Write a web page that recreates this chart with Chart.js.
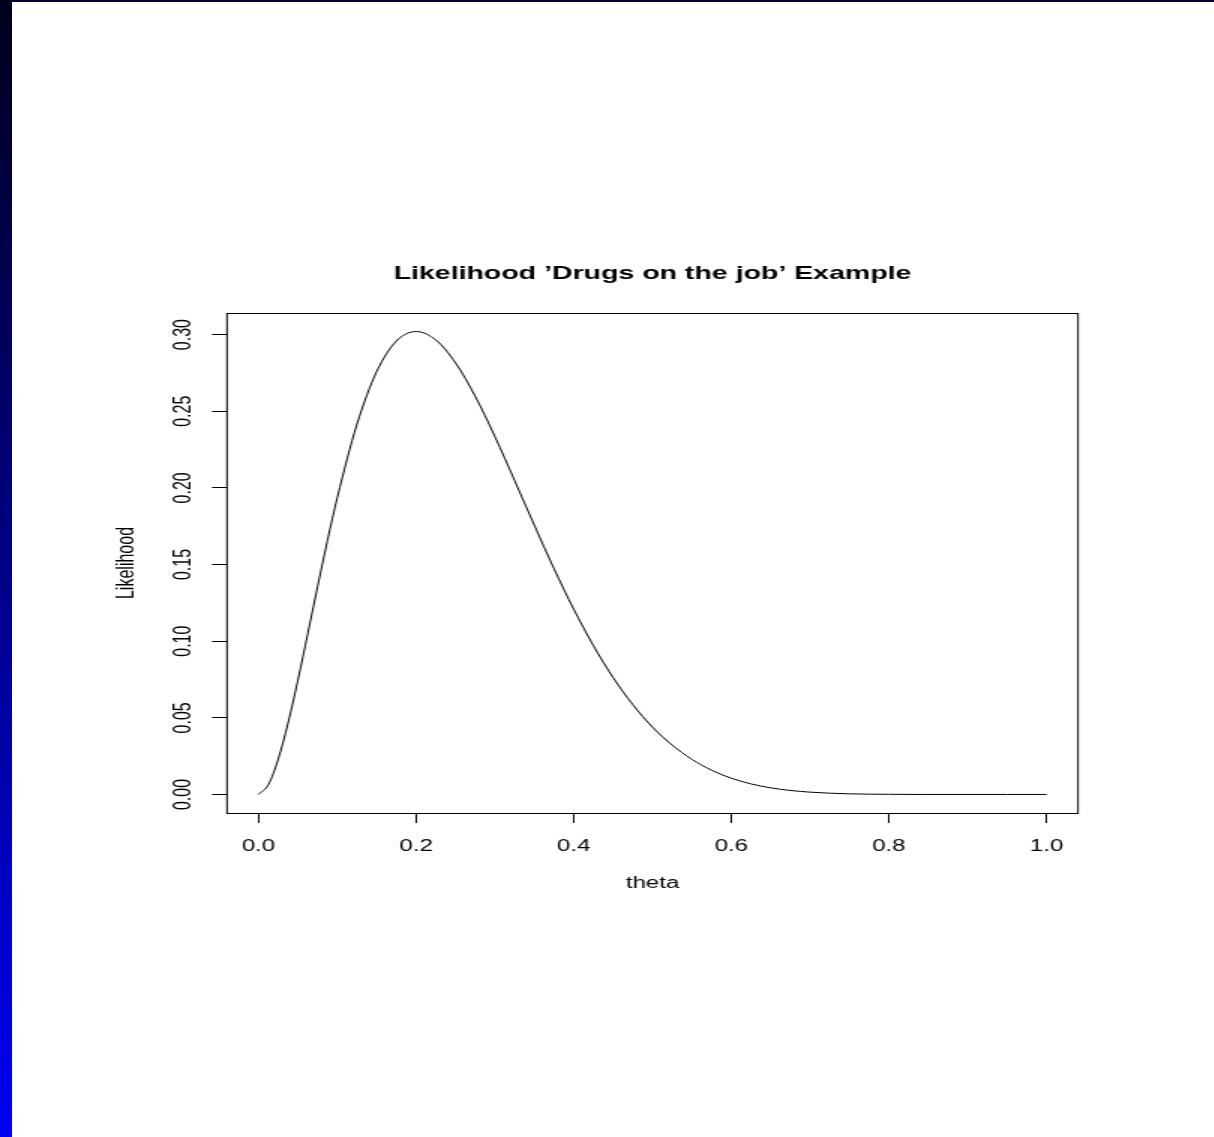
<!DOCTYPE html>
<html lang="en">
<head>
<meta charset="UTF-8">
<title>Likelihood ’Drugs on the job’ Example</title>
<script src="https://cdn.jsdelivr.net/npm/chart.js"></script>
<style>
  html, body { margin: 0; padding: 0; background: #fff; overflow: hidden; }
  body { width: 1214px; height: 1137px; position: relative; }
  #topbar { position: absolute; left: 0; top: 0; width: 1214px; height: 2px; background: #08002e; z-index: 2; }
  #sidebar { position: absolute; left: 0; top: 0; width: 12px; height: 1137px; z-index: 2;
             background: linear-gradient(to bottom, #00001c, #0000f2); }
  /* the source picture is stretched 1.5x sideways, so the chart is drawn narrow and widened */
  #plot { position: absolute; left: 0; top: 0; transform: scaleX(1.5); transform-origin: 0 0; }
</style>
</head>
<body>
<div id="topbar"></div>
<div id="sidebar"></div>
<canvas id="plot" width="809" height="1137"></canvas>

<script>
// values
const theta = [0, 0.0125, 0.025, 0.0375, 0.05, 0.0625, 0.075, 0.0875, 0.1, 0.125, 0.15, 0.175,
               0.2, 0.225, 0.25, 0.275, 0.3, 0.325, 0.35, 0.375, 0.4, 0.425, 0.45, 0.475, 0.5,
               0.525, 0.55, 0.575, 0.6, 0.625, 0.65, 0.675, 0.7, 0.75, 0.8, 0.85, 0.9, 0.95, 1.0];
const likelihood = [0, 0.0064, 0.0230, 0.0466, 0.0746, 0.1049, 0.1357, 0.1656, 0.1937, 0.2416,
                    0.2759, 0.2958, 0.3020, 0.2965, 0.2816, 0.2598, 0.2335, 0.2048, 0.1757,
                    0.1473, 0.1209, 0.0971, 0.0763, 0.0586, 0.0439, 0.0322, 0.0229, 0.0158,
                    0.0106, 0.0069, 0.0043, 0.0026, 0.0015, 0.0004, 0.0001, 0, 0, 0, 0];

const xTicks = [0, 0.2, 0.4, 0.6, 0.8, 1.0];
const xLabels = ['0.0', '0.2', '0.4', '0.6', '0.8', '1.0'];
const yTicks = [0, 0.05, 0.10, 0.15, 0.20, 0.25, 0.30];
const yLabels = ['0.00', '0.05', '0.10', '0.15', '0.20', '0.25', '0.30'];

Chart.defaults.font.family = '"Liberation Sans", Arial, Helvetica, sans-serif';
Chart.defaults.color = '#000';

// plot frame round the chart area
const frame = {
    id: 'frame',
    afterDraw(chart) {
        const { ctx, chartArea: a } = chart;
        ctx.save();
        ctx.strokeStyle = '#000';
        ctx.lineWidth = 1;
        ctx.strokeRect(a.left, a.top + 0.5, a.right - a.left, a.bottom - a.top);
        ctx.restore();
    }
};

const chart = new Chart(document.getElementById('plot'), {
    type: 'line',
    data: {
        datasets: [{
            data: theta.map((t, i) => ({ x: t, y: likelihood[i] })),
            borderColor: '#000',
            borderWidth: 1,
            pointRadius: 0,
            fill: false,
            cubicInterpolationMode: 'monotone'
        }]
    },
    options: {
        responsive: false,
        animation: false,
        devicePixelRatio: 1,
        layout: { padding: { left: 0, top: 0, right: 90.33, bottom: 0 } },
        plugins: {
            legend: { display: false },
            tooltip: { enabled: false },
            title: {
                display: true,
                fullSize: false,
                text: 'Likelihood ’Drugs on the job’ Example',
                font: { size: 19, weight: 'bold' },
                padding: { top: 262, bottom: 28.2 }
            }
        },
        scales: {
            x: {
                type: 'linear',
                min: -0.04,
                max: 1.04,
                afterBuildTicks: s => { s.ticks = xTicks.map(v => ({ value: v })); },
                afterFit: s => { s.height = 324; },
                border: { display: false },
                grid: { drawOnChartArea: false, tickLength: 10, color: '#000' },
                ticks: {
                    autoSkip: false,
                    maxRotation: 0,
                    padding: 14,
                    font: { size: 16 },
                    callback: (v, i) => xLabels[i]
                },
                title: { display: true, text: 'theta', font: { size: 16 }, padding: { top: 0, bottom: 244 } }
            },
            y: {
                type: 'linear',
                min: -0.0121,
                max: 0.3141,
                afterBuildTicks: s => { s.ticks = yTicks.map(v => ({ value: v })); },
                afterFit: s => { s.width = 151.33; },
                border: { display: false },
                grid: { drawOnChartArea: false, tickLength: 10, color: '#000' },
                ticks: {
                    autoSkip: false,
                    minRotation: 90,
                    maxRotation: 90,
                    crossAlign: 'center',
                    padding: 2.7,
                    font: { size: 16 },
                    callback: (v, i) => yLabels[i]
                },
                title: { display: true, text: 'Likelihood', font: { size: 16 }, padding: { top: 75, bottom: 0 } }
            }
        }
    },
    plugins: [frame]
});
</script>
</body>
</html>
